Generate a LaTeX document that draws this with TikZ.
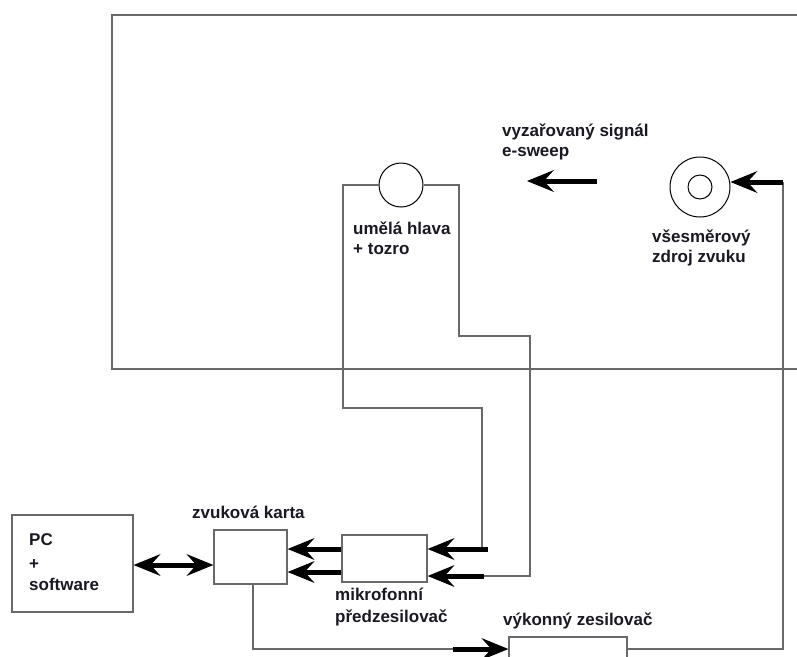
\documentclass[tikz,border=0pt]{standalone}
\usepackage{fontspec}
\setmainfont{Liberation Sans}
\usetikzlibrary{arrows.meta}
\definecolor{wirec}{RGB}{105,105,105}
\definecolor{txtc}{RGB}{25,25,35}
\begin{document}
\begin{tikzpicture}[x=1pt,y=-1pt,
  wire/.style={draw=wirec,line width=1.3pt},
  blk/.style={draw=wirec,line width=1.3pt,fill=white,rectangle,inner sep=0pt},
  ring/.style={circle,draw=black,line width=1pt,inner sep=0pt},
  bigarrow/.style={line width=5pt,-{Stealth[length=27pt,width=22pt,inset=10pt,line width=1pt]}},
  dblarrow/.style={line width=5pt,{Stealth[length=27pt,width=22pt,inset=10pt,line width=1pt]}-{Stealth[length=27pt,width=22pt,inset=10pt,line width=1pt]}},
  lbl/.style={anchor=base west,inner sep=0pt,text=txtc,font=\fontsize{17}{21}\selectfont\bfseries}]
\useasboundingbox (0,0) rectangle (797,656);
\fill[white] (0,0) rectangle (797,656);
% room
\draw[wire] (797,15) -- (112,15) -- (112,369) -- (797,369);
% blocks
\node[blk,minimum width=121pt,minimum height=97pt] (pc) at (72.5,563.5) {};
\node[blk,minimum width=73pt,minimum height=54pt] (card) at (250.5,557) {};
\node[blk,minimum width=85pt,minimum height=47pt] (preamp) at (384.5,558.5) {};
\node[blk,minimum width=118pt,minimum height=46pt] (amp) at (568,660) {};
\node[ring,fill=white,minimum size=44pt] (head) at (401,185) {};
\node[ring,minimum size=60pt] (src) at (700,187) {};
\node[ring,minimum size=24pt] (srcin) at (700,187) {};
% labels
\node[lbl] (sig1) at (502,136) {vyzařovaný signál};
\node[lbl] (sig2) at (502,156) {e-sweep};
\node[lbl] (src1) at (652,242) {všesměrový};
\node[lbl] (src2) at (652,262) {zdroj zvuku};
\node[lbl] (head1) at (353,234) {umělá hlava};
\node[lbl] (head2) at (353,254) {+ tozro};
\node[lbl] (pc1) at (29,545) {PC};
\node[lbl] (pc2) at (29,569) {+};
\node[lbl] (pc3) at (29,590) {software};
\node[lbl] (card1) at (192,518) {zvuková karta};
\node[lbl] (pre1) at (335,600) {mikrofonní};
\node[lbl] (pre2) at (335,622) {předzesilovač};
\node[lbl] (amp1) at (503,625) {výkonný zesilovač};
% radiated signal
\coordinate (e1) at (597,181);
\coordinate (e2) at (527,181);
\draw[bigarrow] (e1) -- (e2);
% head left wire
\coordinate (hl) at (488,549);
\draw[wire] (head.west) -- (343,185) -- (343,408) -- (482,408) -- (482,549) -- (hl);
\draw[bigarrow] (hl) -- (hl -| preamp.east);
% head right wire
\coordinate (hr) at (484,576);
\draw[wire] (head.east) -- (459,185) -- (459,336) -- (530,336) -- (530,576) -- (hr);
\draw[bigarrow] (hr) -- (hr -| preamp.east);
% preamp -> card
\coordinate (row2) at (300,572);
\draw[bigarrow] (preamp.west |- hl) -- (card.east |- hl);
\draw[bigarrow] (preamp.west |- row2) -- (card.east |- row2);
% pc <-> card
\coordinate (row3) at (175,565);
\draw[dblarrow] (pc.east |- row3) -- (card.west |- row3);
% card -> amp
\coordinate (ca) at (453,649);
\draw[wire] ([xshift=2.5pt]card.south) |- (ca);
\draw[bigarrow] (ca) -- (amp.west |- ca);
% amp -> source
\coordinate (sa) at (783,182);
\draw[wire] (amp.east |- ca) -| (sa);
\draw[bigarrow] (sa) -- (sa -| src.east);
\end{tikzpicture}
\end{document}
